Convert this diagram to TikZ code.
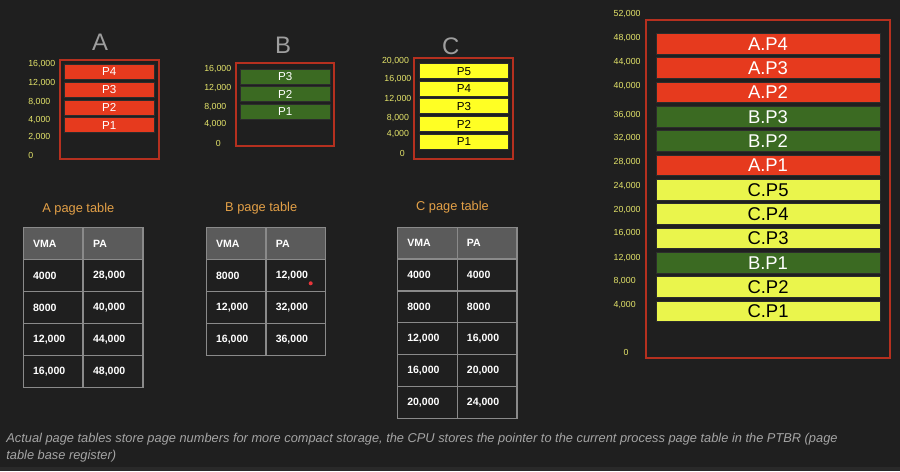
\documentclass[tikz,border=0pt]{standalone}
\usepackage{fontspec}
\setmainfont{Liberation Sans}
\usepackage{tikz}

\definecolor{bgdark}{HTML}{1F1F1F}
\definecolor{bgband}{HTML}{292929}
\definecolor{memred}{HTML}{E63A1E}
\definecolor{memgreen}{HTML}{3B6A22}
\definecolor{memyellow}{HTML}{FFFF24}
\definecolor{memlime}{HTML}{EAF54C}
\definecolor{barline}{HTML}{2C2C2C}
\definecolor{framered}{HTML}{B5301F}
\definecolor{addrtext}{HTML}{E4E46A}
\definecolor{lettergray}{HTML}{9E9E9E}
\definecolor{tabtitle}{HTML}{E3A047}
\definecolor{headgray}{HTML}{5B5B5B}
\definecolor{gridgray}{HTML}{8A8A8A}
\definecolor{notegray}{HTML}{A5A5A5}
\definecolor{reddot}{HTML}{E8353A}

\tikzset{
  membox/.style={draw=framered, line width=1pt},
  page/.style={draw=barline, line width=0.5pt, inner sep=0pt,
    minimum width=1.79cm, minimum height=0.3cm, font=\fontsize{6.6}{7}\selectfont},
  apage/.style={page, fill=memred, text=white},
  bpage/.style={page, fill=memgreen, text=white},
  cpage/.style={page, fill=memyellow, text=black},
  pframe/.style={page, minimum width=4.48cm, minimum height=0.41cm,
    font=\fontsize{10.5}{11}\selectfont},
  aframe/.style={pframe, fill=memred, text=white},
  bframe/.style={pframe, fill=memgreen, text=white},
  cframe/.style={pframe, fill=memlime, text=black},
  addr/.style={text=addrtext, font=\fontsize{5}{6}\selectfont, inner sep=0pt},
  letter/.style={text=lettergray, font=\fontsize{13.6}{14}\selectfont, inner sep=0pt},
  tabname/.style={text=tabtitle, font=\fontsize{7.3}{8}\selectfont, inner sep=0pt},
  cell/.style={draw=gridgray, line width=0.7pt, text=white,
    font=\bfseries\fontsize{6}{7}\selectfont, text width=0.81cm,
    inner xsep=0.19cm, inner ysep=0pt, minimum height=0.64cm, align=left},
  head/.style={cell, fill=headgray}
}

\begin{document}
\begin{tikzpicture}[x=0.02cm, y=-0.02cm]
\fill[bgdark] (0,0) rectangle (900,471);
\fill[bgband] (0,467) rectangle (900,471);

% process A
\node (Aname) at (100,42) [letter] {A};
\draw[membox] (60,60) rectangle (159,159);
\node (A4) at (109.3,72) [apage] {P4};
\node (A3) at (109.3,90) [apage] {P3};
\node (A2) at (109.3,107.5) [apage] {P2};
\node (A1) at (109.3,125.2) [apage] {P1};
\node (Aa16) at (28,64.3) [addr, anchor=west] {16,000};
\node (Aa12) at (28,83.3) [addr, anchor=west] {12,000};
\node (Aa8) at (28,101.7) [addr, anchor=west] {8,000};
\node (Aa4) at (28,120) [addr, anchor=west] {4,000};
\node (Aa2) at (28,137.3) [addr, anchor=west] {2,000};
\node (Aa0) at (28,155) [addr, anchor=west] {0};

% process B
\node (Bname) at (283,45.3) [letter] {B};
\draw[membox] (236,63.3) rectangle (334.3,145.7);
\node (B3) at (285.3,76.7) [bpage] {P3};
\node (B2) at (285.3,94.3) [bpage] {P2};
\node (B1) at (285.3,112) [bpage] {P1};
\node (Ba16) at (204,69.3) [addr, anchor=west] {16,000};
\node (Ba12) at (204,88.3) [addr, anchor=west] {12,000};
\node (Ba8) at (204,107.3) [addr, anchor=west] {8,000};
\node (Ba4) at (204,124.3) [addr, anchor=west] {4,000};
\node (Ba0) at (218.3,143.3) [addr] {0};

% process C
\node (Cname) at (450.7,46.7) [letter] {C};
\draw[membox] (414.3,57.7) rectangle (513.3,159);
\node (C5) at (464,71.2) [cpage] {P5};
\node (C4) at (464,88.8) [cpage] {P4};
\node (C3) at (464,106.3) [cpage] {P3};
\node (C2) at (464,124) [cpage] {P2};
\node (C1) at (464,141.7) [cpage] {P1};
\node (Ca20) at (409.3,61) [addr, anchor=east] {20,000};
\node (Ca16) at (411.7,79) [addr, anchor=east] {16,000};
\node (Ca12) at (411.7,98.7) [addr, anchor=east] {12,000};
\node (Ca8) at (409.3,117.7) [addr, anchor=east] {8,000};
\node (Ca4) at (409.3,134.3) [addr, anchor=east] {4,000};
\node (Ca0) at (402.3,153.3) [addr] {0};

% physical memory
\draw[membox] (645.7,20) rectangle (890.3,358.3);
\node (MAP4) at (768,43.7) [aframe] {A.P4};
\node (MAP3) at (768,68) [aframe] {A.P3};
\node (MAP2) at (768,92.4) [aframe] {A.P2};
\node (MBP3) at (768,116.7) [bframe] {B.P3};
\node (MBP2) at (768,141) [bframe] {B.P2};
\node (MAP1) at (768,165.4) [aframe] {A.P1};
\node (MCP5) at (768,189.7) [cframe] {C.P5};
\node (MCP4) at (768,214) [cframe] {C.P4};
\node (MCP3) at (768,238.3) [cframe] {C.P3};
\node (MBP1) at (768,262.7) [bframe] {B.P1};
\node (MCP2) at (768,287) [cframe] {C.P2};
\node (MCP1) at (768,311.3) [cframe] {C.P1};
\node (Ma52) at (613.3,14.3) [addr, anchor=west] {52,000};
\node (Ma48) at (613.3,37.7) [addr, anchor=west] {48,000};
\node (Ma44) at (613.3,61.7) [addr, anchor=west] {44,000};
\node (Ma40) at (613.3,86) [addr, anchor=west] {40,000};
\node (Ma36) at (613.3,115) [addr, anchor=west] {36,000};
\node (Ma32) at (613.3,138.3) [addr, anchor=west] {32,000};
\node (Ma28) at (613.3,162.3) [addr, anchor=west] {28,000};
\node (Ma24) at (613.3,186) [addr, anchor=west] {24,000};
\node (Ma20) at (613.3,210) [addr, anchor=west] {20,000};
\node (Ma16) at (613.3,233.3) [addr, anchor=west] {16,000};
\node (Ma12) at (613.3,257.7) [addr, anchor=west] {12,000};
\node (Ma8) at (613.3,281) [addr, anchor=west] {8,000};
\node (Ma4) at (613.3,305) [addr, anchor=west] {4,000};
\node (Ma0) at (626,352.7) [addr] {0};

% A page table
\node (tAname) at (78.3,209) [tabname] {A page table};
\node (tAhv) at (53.3,243.8) [head] {VMA};
\node (tAhp) at (113.3,243.8) [head] {PA};
\node (tA1v) at (53.3,275.8) [cell] {4000};
\node (tA1p) at (113.3,275.8) [cell] {28,000};
\node (tA2v) at (53.3,307.5) [cell] {8000};
\node (tA2p) at (113.3,307.5) [cell] {40,000};
\node (tA3v) at (53.3,339.2) [cell] {12,000};
\node (tA3p) at (113.3,339.2) [cell] {44,000};
\node (tA4v) at (53.3,371.2) [cell] {16,000};
\node (tA4p) at (113.3,371.2) [cell] {48,000};

% B page table
\node (tBname) at (261.2,208.6) [tabname] {B page table};
\node (tBhv) at (236.3,243.8) [head] {VMA};
\node (tBhp) at (296,243.8) [head] {PA};
\node (tB1v) at (236.3,275.8) [cell] {8000};
\node (tB1p) at (296,275.8) [cell] {12,000};
\node (tB2v) at (236.3,307.5) [cell] {12,000};
\node (tB2p) at (296,307.5) [cell] {32,000};
\node (tB3v) at (236.3,339.2) [cell] {16,000};
\node (tB3p) at (296,339.2) [cell] {36,000};
\node (dot) at (310.7,283.3) [circle, fill=reddot, inner sep=0pt, minimum size=0.08cm] {};

% C page table
\node (tCname) at (452.5,207) [tabname] {C page table};
\node (tChv) at (427.5,243.3) [head] {VMA};
\node (tChp) at (487.2,243.3) [head] {PA};
\node (tC1v) at (427.5,275) [cell] {4000};
\node (tC1p) at (487.2,275) [cell] {4000};
\node (tC2v) at (427.5,306.7) [cell] {8000};
\node (tC2p) at (487.2,306.7) [cell] {8000};
\node (tC3v) at (427.5,338.5) [cell] {12,000};
\node (tC3p) at (487.2,338.5) [cell] {16,000};
\node (tC4v) at (427.5,370.3) [cell] {16,000};
\node (tC4p) at (487.2,370.3) [cell] {20,000};
\node (tC5v) at (427.5,402.3) [cell] {20,000};
\node (tC5p) at (487.2,402.3) [cell] {24,000};

\node (note) at (6,433) [anchor=north west, align=left, inner sep=0pt, text=notegray,
  font=\itshape\fontsize{7.3}{9.8}\selectfont]
  {Actual page tables store page numbers for more compact storage, the CPU stores the pointer to the current process page table in the PTBR (page\\table base register)};
\end{tikzpicture}
\end{document}
